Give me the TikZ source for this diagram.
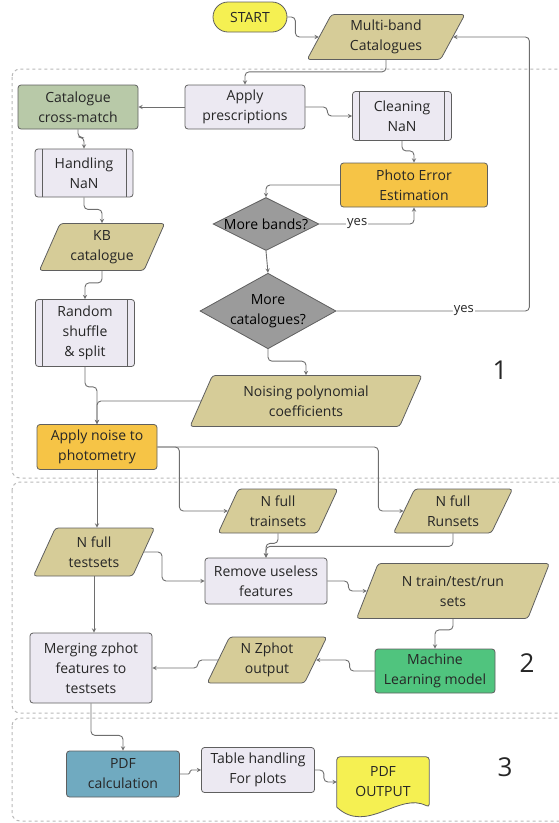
\documentclass[tikz,border=0pt]{standalone}
\usepackage{fontspec}
\setmainfont{Open Sans}
\usetikzlibrary{shapes.geometric}

\definecolor{edge}{RGB}{95,95,95}
\definecolor{linkgray}{RGB}{110,110,110}
\definecolor{lav}{RGB}{236,233,242}
\definecolor{kbtan}{RGB}{214,204,152}
\definecolor{xgreen}{RGB}{184,201,168}
\definecolor{estorange}{RGB}{246,196,70}
\definecolor{decgray}{RGB}{155,155,155}
\definecolor{mlgreen}{RGB}{80,196,126}
\definecolor{pdfblue}{RGB}{112,170,192}
\definecolor{outyellow}{RGB}{245,240,82}

\begin{document}
\begin{tikzpicture}[x=1pt, y=-1pt, >=stealth,
  every node/.style={font=\fontsize{14}{20}\selectfont, text=black!85},
  box/.style={draw=edge, line width=0.8pt, rounded corners=3pt, align=center, minimum width=120, minimum height=44, inner sep=2pt},
  proc/.style={box, fill=lav},
  subproc/.style={proc, path picture={
    \draw[edge, line width=0.8pt] ([xshift=7pt]path picture bounding box.north west) -- ([xshift=7pt]path picture bounding box.south west)
      ([xshift=-7pt]path picture bounding box.north east) -- ([xshift=-7pt]path picture bounding box.south east);}},
  io/.style={box, trapezium, trapezium left angle=66, trapezium right angle=114, trapezium stretches=true, fill=kbtan},
  decision/.style={draw=edge, line width=0.8pt, diamond, aspect=2, inner sep=0pt, align=center, fill=decgray, text=black},
  link/.style={->, draw=linkgray, line width=0.9pt, rounded corners=4pt},
  group/.style={draw=gray!55, dashed, line width=1pt, rounded corners=8pt},
  yes/.style={fill=white, inner sep=1pt, font=\fontsize{13}{15}\selectfont}]

\useasboundingbox (0,0) rectangle (559,823);

% Stages
\draw[group] (12,69) rectangle (575,478);
\draw[group] (12,482) rectangle (575,713);
\draw[group] (12,718) rectangle (575,821);

\node[font=\fontsize{26}{30}\selectfont] (one) at (500,370) {1};
\node[font=\fontsize{26}{30}\selectfont] (two) at (527,663) {2};
\node[font=\fontsize{26}{30}\selectfont] (three) at (505,767) {3};

% Catalogues
\node[box, fill=outyellow, rounded corners=15pt, minimum width=74, minimum height=30, inner sep=1pt] (start) at (250,17) {START};
\node[io, minimum width=158, minimum height=45] (multiband) at (386,37) {Multi-band\\Catalogues};
\node[box, fill=xgreen] (crossmatch) at (78,107) {Catalogue\\cross-match};
\node[proc] (prescr) at (245,107) {Apply\\prescriptions};
\node[subproc, minimum width=99, minimum height=49] (cleaning) at (402,116) {Cleaning\\NaN};
\node[subproc, minimum width=98, minimum height=48] (handling) at (84,173) {Handling\\NaN};
\node[box, fill=estorange, minimum width=147] (photoerr) at (414,185) {Photo Error\\Estimation};
\node[decision] (morebands) at (266,224) {More bands?};
\node[io, minimum width=126, minimum height=47] (kbcat) at (102,247) {KB\\catalogue};
\node[decision, aspect=1.8] (morecats) at (268,311) {More\\catalogues?};
\node[subproc, minimum width=99, minimum height=67] (shuffle) at (85,333) {Random\\shuffle\\\& split};
\node[io, minimum width=232, minimum height=51] (noisecoef) at (306,401) {Noising polynomial\\coefficients};
\node[box, fill=estorange, minimum height=45] (applynoise) at (97,447) {Apply noise to\\photometry};

% Training
\node[io] (trainsets) at (278,511) {N full\\trainsets};
\node[io] (runsets) at (453,511) {N full\\Runsets};
\node[io, minimum width=122, minimum height=48] (testsets) at (94,552) {N full\\testsets};
\node[proc, minimum width=122, minimum height=46] (remove) at (266,581) {Remove useless\\features};
\node[io, minimum width=193, minimum height=55] (trtrsets) at (453,591) {N train/test/run\\sets};
\node[proc, minimum width=122, minimum height=70] (merging) at (91,668) {Merging zphot\\features to\\testsets};
\node[io, minimum height=46] (zphot) at (267,660) {N Zphot\\output};
\node[box, fill=mlgreen] (mlmodel) at (435,671) {Machine\\Learning model};

% PDF
\node[box, fill=pdfblue, minimum width=113, minimum height=46] (pdfcalc) at (123,774) {PDF\\calculation};
\node[proc, minimum width=113, minimum height=45] (tableplots) at (258,770) {Table handling\\For plots};
\node[align=center, minimum width=92, minimum height=50, inner sep=0pt] (pdfout) at (383,782) {};
\draw[draw=edge, line width=0.8pt, fill=outyellow, rounded corners=3pt] (pdfout.south west) -- (pdfout.north west) -- (pdfout.north east) -- (pdfout.south east)
  [sharp corners] .. controls +(-30,-16) and +(30,28) .. (pdfout.south west) -- cycle;
\node[align=center] at (pdfout) {PDF\\OUTPUT};

% Links
\draw[link] (start.east) -- ++(8,0) |- (multiband.west);
\draw[link] (multiband.south) -- ++(0,12) -| (prescr.north);
\draw[link] (prescr.west) -- (crossmatch.east);
\draw[link] (prescr.east) -- ++(22,0) |- (cleaning.west);
\draw[link] (cleaning.south) -- ++(0,10) -| (photoerr.north);
\draw[link] (photoerr.west) -| (morebands.north);
\draw[link] (morebands.east) -| node[yes, pos=0.2] {yes} (photoerr.south);
\draw[link] (morebands.south) -- (morecats.north);
\draw[link] (morecats.east) -- node[yes, pos=0.66] {yes} ++(193,0) |- (multiband.east);
\draw[link] (morecats.south) -- ++(0,12) -| (noisecoef.north);
\draw[link] (crossmatch.south) -- ++(0,8) -| (handling.north);
\draw[link] (handling.south) -- ++(0,12) -| (kbcat.north);
\draw[link] (kbcat.south) -- ++(0,12) -| (shuffle.north);
\draw[link] (shuffle.south) -- ++(0,20) -| (applynoise.north);
\draw[link] (noisecoef.west) -| (applynoise.north);
\draw[link] (applynoise.south) -- (applynoise.south |- testsets.north);
\draw[link] (applynoise.east) -- ++(22,0) |- (trainsets.west);
\draw[link] (applynoise.east) -- ++(221,0) |- (runsets.west);
\draw[link] (trainsets.south) -- ++(0,10) -| (remove.north);
\draw[link] (runsets.south) -- ++(0,13) -| (remove.north);
\draw[link] (testsets.east) -- ++(18,0) |- (remove.west);
\draw[link] (remove.east) -- ++(21,0) |- (trtrsets.west);
\draw[link] (trtrsets.south) -- ++(0,11) -| (mlmodel.north);
\draw[link] (mlmodel.west) -- ++(-25,0) |- (zphot.east);
\draw[link] (zphot.west) -- ++(-20,0) |- (merging.east);
\draw[link] (testsets.south) -- (testsets.south |- merging.north);
\draw[link] (merging.south) -- ++(0,32) -| (pdfcalc.north);
\draw[link, rounded corners=1.5pt] (pdfcalc.east) -- ++(10,0) |- (tableplots.west);
\draw[link] (tableplots.east) -- ++(9,0) |- (pdfout.west);

\end{tikzpicture}
\end{document}
